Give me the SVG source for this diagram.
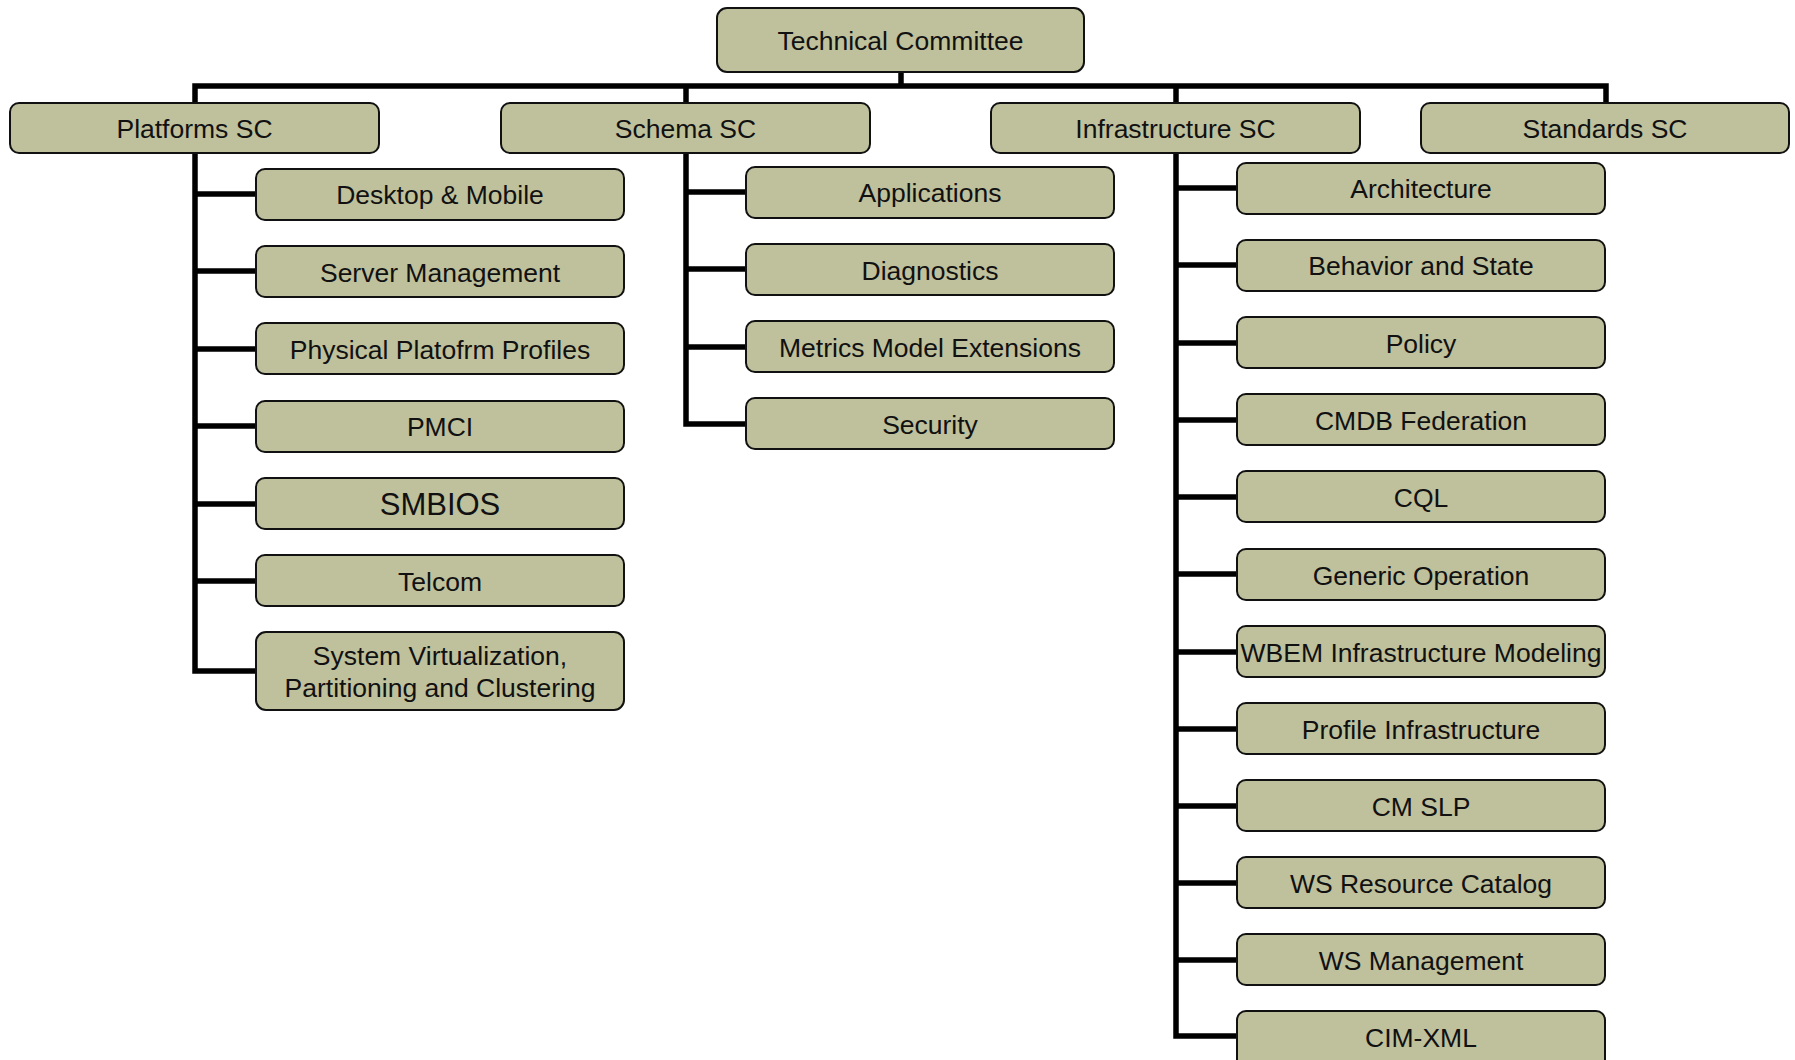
<svg xmlns="http://www.w3.org/2000/svg" width="1795" height="1060" viewBox="0 0 1795 1060">
<style>
.box{fill:#bfc09c;stroke:#111;stroke-width:2}
.t{font-family:"Liberation Sans",Arial,sans-serif;font-size:26.5px;fill:#111;text-anchor:middle}
.big{font-size:31px}
.c{fill:none;stroke:#000;stroke-width:5.5;stroke-linecap:butt;stroke-linejoin:miter}
</style>
<rect width="1795" height="1060" fill="#fff"/>
<g id="connectors">
<path class="c" d="M901,72 V86"/>
<path class="c" d="M195,103 V86 H1606 V103"/>
<path class="c" d="M686,86 V103"/>
<path class="c" d="M1176,86 V103"/>
<path class="c" d="M195,152 V671 H256"/>
<path class="c" d="M195,194 H256 M195,271 H256 M195,349 H256 M195,426 H256 M195,504 H256 M195,581 H256"/>
<path class="c" d="M686,152 V424 H746"/>
<path class="c" d="M686,192 H746 M686,269 H746 M686,347 H746"/>
<path class="c" d="M1176,152 V1036 H1237"/>
<path class="c" d="M1176,188 H1237 M1176,265 H1237 M1176,343 H1237 M1176,420 H1237 M1176,497 H1237 M1176,574 H1237 M1176,652 H1237 M1176,729 H1237 M1176,806 H1237 M1176,883 H1237 M1176,960 H1237"/>
</g>
<g id="tc"><rect class="box" x="717" y="8" width="367" height="64" rx="10"/><text class="t" x="900.5" y="50">Technical Committee</text></g>
<g id="platforms"><rect class="box" x="10" y="103" width="369" height="50" rx="9"/><text class="t" x="194.5" y="138">Platforms SC</text></g>
<g id="schema"><rect class="box" x="501" y="103" width="369" height="50" rx="9"/><text class="t" x="685.5" y="138">Schema SC</text></g>
<g id="infrastructure"><rect class="box" x="991" y="103" width="369" height="50" rx="9"/><text class="t" x="1175.5" y="138">Infrastructure SC</text></g>
<g id="standards"><rect class="box" x="1421" y="103" width="368" height="50" rx="9"/><text class="t" x="1605" y="138">Standards SC</text></g>

<g id="desktop"><rect class="box" x="256" y="169" width="368" height="51" rx="9"/><text class="t" x="440" y="204">Desktop &amp; Mobile</text></g>
<g id="server"><rect class="box" x="256" y="246" width="368" height="51" rx="9"/><text class="t" x="440" y="282">Server Management</text></g>
<g id="physical"><rect class="box" x="256" y="323" width="368" height="51" rx="9"/><text class="t" x="440" y="359">Physical Platofrm Profiles</text></g>
<g id="pmci"><rect class="box" x="256" y="401" width="368" height="51" rx="9"/><text class="t" x="440" y="436">PMCI</text></g>
<g id="smbios"><rect class="box" x="256" y="478" width="368" height="51" rx="9"/><text class="t big" x="440" y="515">SMBIOS</text></g>
<g id="telcom"><rect class="box" x="256" y="555" width="368" height="51" rx="9"/><text class="t" x="440" y="591">Telcom</text></g>
<g id="sysvirt"><rect class="box" x="256" y="632" width="368" height="78" rx="10"/><text class="t" x="440" y="665">System Virtualization,</text><text class="t" x="440" y="697">Partitioning and Clustering</text></g>

<g id="applications"><rect class="box" x="746" y="167" width="368" height="51" rx="9"/><text class="t" x="930" y="202">Applications</text></g>
<g id="diagnostics"><rect class="box" x="746" y="244" width="368" height="51" rx="9"/><text class="t" x="930" y="280">Diagnostics</text></g>
<g id="metrics"><rect class="box" x="746" y="321" width="368" height="51" rx="9"/><text class="t" x="930" y="357">Metrics Model Extensions</text></g>
<g id="security"><rect class="box" x="746" y="398" width="368" height="51" rx="9"/><text class="t" x="930" y="434">Security</text></g>

<g id="architecture"><rect class="box" x="1237" y="163" width="368" height="51" rx="9"/><text class="t" x="1421" y="198">Architecture</text></g>
<g id="behavior"><rect class="box" x="1237" y="240" width="368" height="51" rx="9"/><text class="t" x="1421" y="275">Behavior and State</text></g>
<g id="policy"><rect class="box" x="1237" y="317" width="368" height="51" rx="9"/><text class="t" x="1421" y="353">Policy</text></g>
<g id="cmdb"><rect class="box" x="1237" y="394" width="368" height="51" rx="9"/><text class="t" x="1421" y="430">CMDB Federation</text></g>
<g id="cql"><rect class="box" x="1237" y="471" width="368" height="51" rx="9"/><text class="t" x="1421" y="507">CQL</text></g>
<g id="generic"><rect class="box" x="1237" y="549" width="368" height="51" rx="9"/><text class="t" x="1421" y="585">Generic Operation</text></g>
<g id="wbem"><rect class="box" x="1237" y="626" width="368" height="51" rx="9"/><text class="t" x="1421" y="662">WBEM Infrastructure Modeling</text></g>
<g id="profile"><rect class="box" x="1237" y="703" width="368" height="51" rx="9"/><text class="t" x="1421" y="739">Profile Infrastructure</text></g>
<g id="cmslp"><rect class="box" x="1237" y="780" width="368" height="51" rx="9"/><text class="t" x="1421" y="816">CM SLP</text></g>
<g id="wsresource"><rect class="box" x="1237" y="857" width="368" height="51" rx="9"/><text class="t" x="1421" y="893">WS Resource Catalog</text></g>
<g id="wsmgmt"><rect class="box" x="1237" y="934" width="368" height="51" rx="9"/><text class="t" x="1421" y="970">WS Management</text></g>
<g id="cimxml"><rect class="box" x="1237" y="1011" width="368" height="60" rx="9"/><text class="t" x="1421" y="1047">CIM-XML</text></g>
</svg>
